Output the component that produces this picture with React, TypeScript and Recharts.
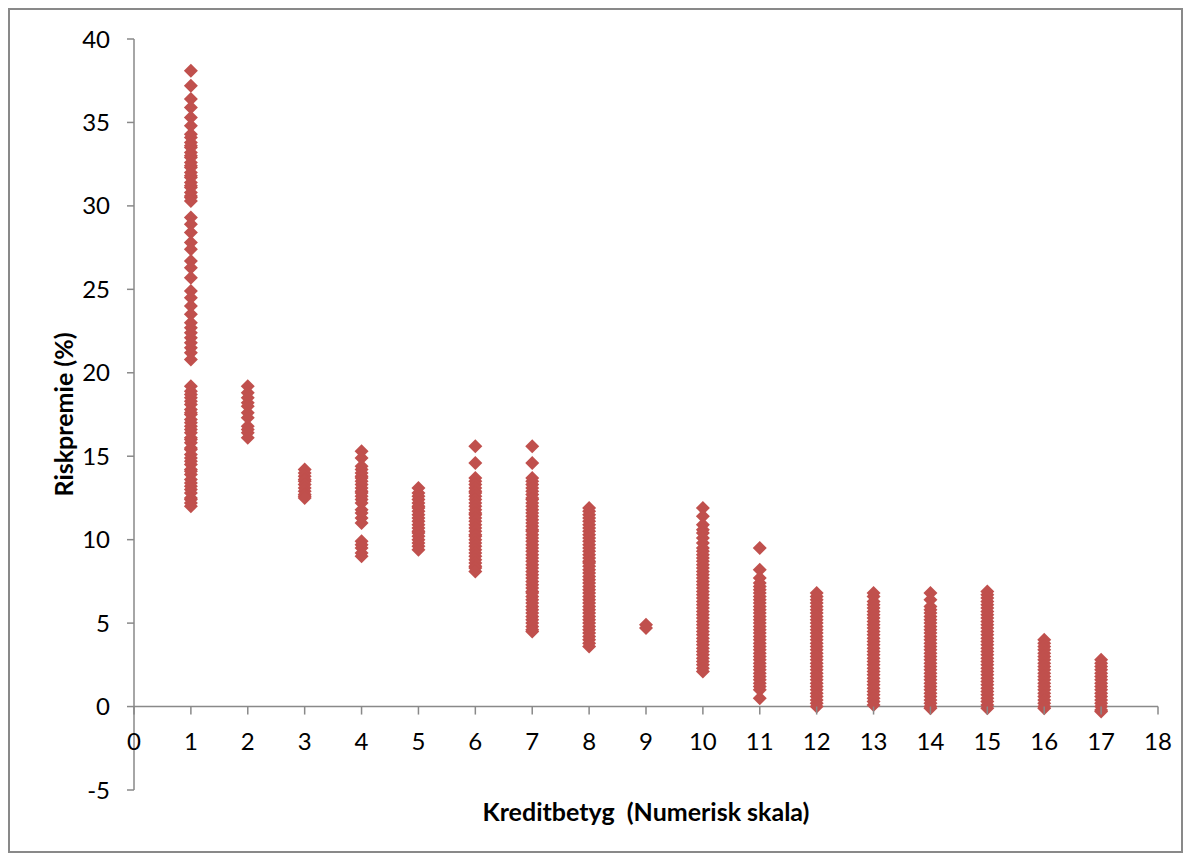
import React from "react";
import { ScatterChart, Scatter, XAxis, YAxis, ReferenceLine, Label } from "recharts";

// Riskpremie (%) per kreditbetyg
const rating1 = [38.1, 37.2, 36.4, 35.9, 35.3, 34.8, 34.3, 34.1, 33.8, 33.6, 33.5, 33.2, 33.0, 32.9, 32.6, 32.4, 32.3, 32.0,
  31.8, 31.7, 31.4, 31.2, 31.1, 30.8, 30.6, 30.5, 30.3,
  29.3, 28.9, 28.4, 27.8, 27.4, 26.7, 26.3, 25.7, 24.9, 24.5, 24.0, 23.5, 23.0, 22.7, 22.4, 22.1, 21.8, 21.5, 21.2, 20.8,
  19.2, 18.9, 18.7, 18.5, 18.3, 18.1, 17.8, 17.6, 17.5, 17.2, 17.0, 16.8, 16.6, 16.4, 16.1, 16.0, 15.8, 15.5, 15.4, 15.1,
  14.9, 14.7, 14.5, 14.2, 14.1, 13.9, 13.6, 13.4, 13.2, 13.0, 12.8, 12.5, 12.4, 12.2, 12.0];
const rating2 = [19.2, 18.8, 18.5, 18.2, 18.0, 17.6, 17.3, 16.8, 16.6, 16.4, 16.1];
const rating3 = [14.2, 14.0, 13.8, 13.6, 13.5, 13.3, 13.1, 12.9, 12.7, 12.6, 12.5];
const rating4 = [15.3, 14.9, 14.4, 14.2, 14.0, 13.8, 13.7, 13.5, 13.3, 13.1, 12.9, 12.8, 12.6, 12.4, 12.2, 11.8, 11.6, 11.3, 11.0,
  9.9, 9.7, 9.5, 9.2, 9.0];
const rating5 = [13.1, 12.8, 12.6, 12.4, 12.2, 12.0, 11.9, 11.7, 11.5, 11.3, 11.1, 10.9, 10.7, 10.5, 10.4, 10.2, 10.0, 9.8, 9.6, 9.4];
const rating6 = [15.6, 14.6, 13.7, 13.5, 13.3, 13.1, 12.9, 12.8, 12.6, 12.4, 12.2, 12.0, 11.8, 11.6, 11.5, 11.3, 11.1, 10.9,
  10.7, 10.5, 10.3, 10.2, 10.0, 9.8, 9.6, 9.4, 9.2, 9.0, 8.8, 8.6, 8.4, 8.3, 8.1];
const rating7 = [15.6, 14.6, 13.7, 13.5, 13.3, 13.1, 12.9, 12.7, 12.5, 12.4, 12.2, 12.0, 11.8, 11.6, 11.4, 11.2, 11.0, 10.8,
  10.6, 10.5, 10.3, 10.1, 9.9, 9.7, 9.5, 9.3, 9.1, 8.9, 8.7, 8.5, 8.3, 8.1, 7.9, 7.7, 7.5, 7.3, 7.1, 6.9, 6.8, 6.6, 6.4,
  6.2, 6.0, 5.8, 5.6, 5.4, 5.2, 5.0, 4.8, 4.6, 4.5];
const rating8 = [11.9, 11.7, 11.5, 11.3, 11.1, 10.9, 10.7, 10.5, 10.3, 10.1, 9.9, 9.7, 9.5, 9.3, 9.1, 8.9, 8.7, 8.6, 8.4,
  8.2, 8.0, 7.8, 7.6, 7.4, 7.2, 7.0, 6.8, 6.6, 6.4, 6.2, 6.0, 5.8, 5.6, 5.4, 5.2, 5.0, 4.8, 4.6, 4.4, 4.2, 4.0, 3.8, 3.6];
const rating9 = [4.9, 4.7];
const rating10 = [11.9, 11.4, 10.9, 10.6, 10.4, 10.1, 9.8, 9.5, 9.3, 9.1, 8.9, 8.7, 8.5, 8.3, 8.1, 7.9, 7.7, 7.5, 7.3, 7.1,
  6.9, 6.7, 6.5, 6.3, 6.1, 5.9, 5.7, 5.5, 5.3, 5.1, 4.9, 4.7, 4.5, 4.3, 4.1, 3.9, 3.7, 3.5, 3.3, 3.1, 2.9, 2.7, 2.5, 2.3, 2.1];
const rating11 = [9.5, 8.2, 7.7, 7.4, 7.2, 7.0, 6.8, 6.6, 6.4, 6.2, 6.0, 5.8, 5.6, 5.4, 5.2, 5.0, 4.8, 4.6, 4.4, 4.2,
  4.0, 3.8, 3.6, 3.4, 3.2, 3.0, 2.8, 2.6, 2.4, 2.2, 2.0, 1.8, 1.6, 1.4, 1.2, 1.0, 0.5];
const rating12 = [6.8, 6.6, 6.4, 6.2, 6.0, 5.8, 5.6, 5.4, 5.2, 5.0, 4.8, 4.6, 4.4, 4.2, 4.0, 3.8, 3.6, 3.4, 3.2, 3.0,
  2.8, 2.6, 2.4, 2.2, 2.0, 1.8, 1.6, 1.4, 1.2, 1.0, 0.8, 0.6, 0.4, 0.2, 0.0];
const rating13 = [6.8, 6.6, 6.3, 6.1, 5.9, 5.7, 5.5, 5.3, 5.1, 4.9, 4.7, 4.5, 4.3, 4.1, 3.9, 3.7, 3.5, 3.3, 3.1, 2.9,
  2.7, 2.5, 2.3, 2.1, 1.9, 1.7, 1.5, 1.3, 1.1, 0.9, 0.7, 0.5, 0.3, 0.1];
const rating14 = [6.8, 6.4, 6.0, 5.8, 5.6, 5.4, 5.2, 5.0, 4.8, 4.6, 4.4, 4.2, 4.0, 3.8, 3.6, 3.4, 3.2, 3.0, 2.8, 2.6,
  2.4, 2.2, 2.0, 1.8, 1.6, 1.4, 1.2, 1.0, 0.8, 0.6, 0.4, 0.2, 0.0, -0.1];
const rating15 = [6.9, 6.7, 6.5, 6.3, 6.1, 5.9, 5.7, 5.5, 5.3, 5.1, 4.9, 4.7, 4.5, 4.3, 4.1, 3.9, 3.7, 3.5, 3.3, 3.1,
  2.9, 2.7, 2.5, 2.3, 2.1, 1.9, 1.7, 1.5, 1.3, 1.1, 0.9, 0.7, 0.5, 0.3, 0.1, -0.1];
const rating16 = [4.0, 3.8, 3.6, 3.4, 3.2, 3.0, 2.8, 2.6, 2.4, 2.2, 2.0, 1.8, 1.6, 1.4, 1.2, 1.0, 0.8, 0.6, 0.4, 0.2, 0.0, -0.1];
const rating17 = [2.8, 2.6, 2.4, 2.2, 2.0, 1.8, 1.6, 1.4, 1.2, 1.0, 0.8, 0.6, 0.4, 0.2, 0.0, -0.2, -0.3];

const ratings = [rating1, rating2, rating3, rating4, rating5, rating6, rating7, rating8, rating9,
  rating10, rating11, rating12, rating13, rating14, rating15, rating16, rating17];

const xTicks = [0, 1, 2, 3, 4, 5, 6, 7, 8, 9, 10, 11, 12, 13, 14, 15, 16, 17, 18];
const yTicks = [-5, 0, 5, 10, 15, 20, 25, 30, 35, 40];

const points = ratings.flatMap((vals, i) => vals.map((y) => ({ x: i + 1, y })));

const RED = "#C0504D";
const AXIS = "#898989";
const FONT = "Lato, 'Open Sans', sans-serif";

const W = 1171;
const H = 841;
const TOP = 29;
const PLOT_H = 751;
const Y_MIN = -5;
const Y_MAX = 40;
// y pixel of the zero line, where the x axis crosses
const ZERO_Y = TOP + (PLOT_H * Y_MAX) / (Y_MAX - Y_MIN);

const Diamond = (props: any) => {
  const { cx, cy } = props;
  const r = 7;
  return <path d={`M${cx},${cy - r}L${cx + r},${cy}L${cx},${cy + r}L${cx - r},${cy}Z`} fill={RED} />;
};

const XTick = (props: any) => {
  const { x, payload } = props;
  return (
    <g>
      <line x1={x} x2={x} y1={ZERO_Y} y2={ZERO_Y + 8} stroke={AXIS} strokeWidth={1.5} />
      <text x={x} y={ZERO_Y + 35} dy="0.355em" textAnchor="middle" fontSize={24} fontFamily={FONT} fill="#000">
        {payload.value}
      </text>
    </g>
  );
};

const XTitle = (props: any) => {
  const { viewBox } = props;
  return (
    <text x={viewBox.x + viewBox.width / 2} y={viewBox.y + 31} textAnchor="middle" fontSize={25}
      fontWeight="bold" fontFamily={FONT} fill="#000" xmlSpace="preserve">
      Kreditbetyg  (Numerisk skala)
    </text>
  );
};

const YTitle = (props: any) => {
  const { viewBox } = props;
  const x = 53;
  const y = viewBox.y + viewBox.height / 2;
  return (
    <text x={x} y={y} transform={`rotate(-90 ${x} ${y})`} textAnchor="middle" dominantBaseline="central"
      fontSize={25} fontWeight="bold" fontFamily={FONT} fill="#000">
      Riskpremie (%)
    </text>
  );
};

export default function App() {
  return (
    <div style={{ width: W, height: H, border: "2px solid #898989", background: "#fff" }}>
      <ScatterChart width={W} height={H} margin={{ top: TOP, right: 23, bottom: 16, left: 0 }}>
        <XAxis type="number" dataKey="x" domain={[0, 18]} ticks={xTicks} height={45}
          axisLine={false} tickLine={false} tick={<XTick />} interval={0}>
          <Label content={<XTitle />} />
        </XAxis>
        <YAxis type="number" dataKey="y" domain={[Y_MIN, Y_MAX]} ticks={yTicks} width={124} interval={0}
          axisLine={{ stroke: AXIS, strokeWidth: 1.5 }} tickLine={{ stroke: AXIS, strokeWidth: 1.5 }}
          tickSize={7} tickMargin={17} tick={{ fontSize: 24, fontFamily: FONT, fill: "#000" }}>
          <Label content={<YTitle />} />
        </YAxis>
        <ReferenceLine y={0} stroke={AXIS} strokeWidth={1.5} />
        <Scatter data={points} shape={<Diamond />} isAnimationActive={false} />
      </ScatterChart>
    </div>
  );
}
